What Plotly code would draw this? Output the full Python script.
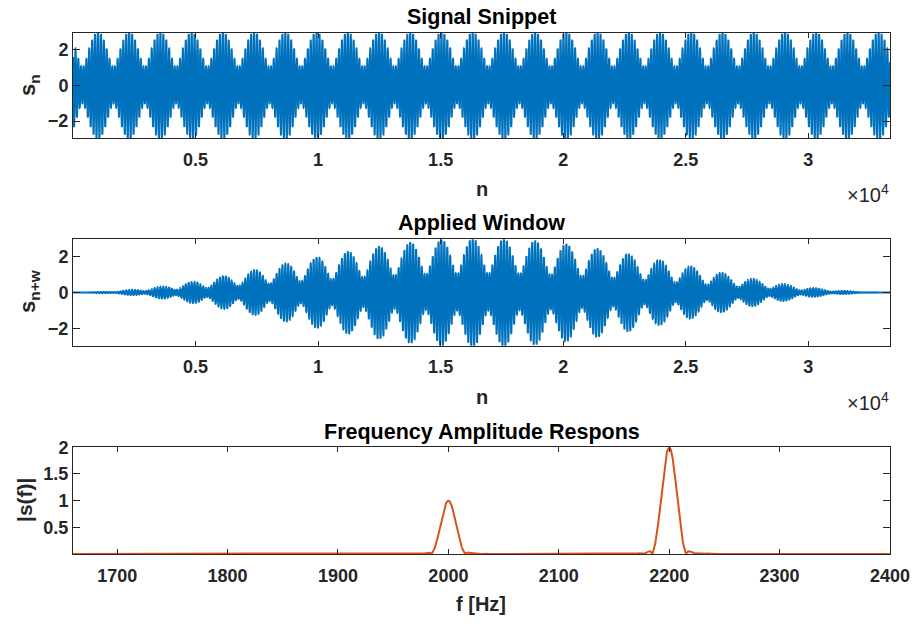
import numpy as np
import plotly.graph_objects as go

# ---- data / parameters ----
fs = 254800                 # sampling rate [Hz] (beat period ~1274 samples -> 200 Hz beat)
n_samples = 33333           # snippet length
start_offset = 1019         # first beat maximum falls at n ~ 1020
tone_freqs = [2000, 2200]   # Hz
tone_amps = [1.0, 2.0]

sig_xtick_vals = [5000, 10000, 15000, 20000, 25000, 30000]
sig_xtick_text = ["0.5", "1", "1.5", "2", "2.5", "3"]
sig_ytick_vals = [-2, 0, 2]
frq_xtick_vals = [1700, 1800, 1900, 2000, 2100, 2200, 2300, 2400]
frq_ytick_vals = [0.5, 1, 1.5, 2]
frq_range = [1660, 2400]

# ---- signal, window, spectrum ----
n = np.arange(1, n_samples + 1)
t = (n - 1 - start_offset) / fs
s = np.zeros(n_samples)
for f0, a0 in zip(tone_freqs, tone_amps):
    s += a0 * np.cos(2 * np.pi * f0 * t)
w = 0.5 * (1 - np.cos(2 * np.pi * (n - 1) / (n_samples - 1)))
sw = s * w
nfft = 2 ** 20
S = np.abs(np.fft.rfft(sw, nfft)) * 2 / w.sum()
f = np.arange(len(S)) * fs / nfft
m = (f >= frq_range[0]) & (f <= frq_range[1])
f_sel, S_sel = f[m], S[m]

BLUE = "#0072BD"
ORANGE = "#D95319"
AX = "#262626"
FONT = "Liberation Sans, Arial, sans-serif"

fig = go.Figure()
fig.add_trace(go.Scatter(x=n, y=s, mode="lines",
                         line=dict(color=BLUE, width=2, simplify=False),
                         xaxis="x", yaxis="y", showlegend=False))
fig.add_trace(go.Scatter(x=n, y=sw, mode="lines",
                         line=dict(color=BLUE, width=2, simplify=False),
                         xaxis="x2", yaxis="y2", showlegend=False))
fig.add_trace(go.Scatter(x=f_sel, y=S_sel, mode="lines",
                         line=dict(color=ORANGE, width=2),
                         xaxis="x3", yaxis="y3", showlegend=False))

W, H = 915, 624
x0, x1 = 73 / W, 890 / W
def ydom(top, bot):
    return [1 - bot / H, 1 - top / H]

tf = dict(family=FONT, size=18, color=AX, weight="bold")
common_x = dict(showline=True, linecolor=AX, linewidth=1, mirror="ticks", ticks="inside",
                ticklen=5, tickcolor=AX, showgrid=False, zeroline=False,
                tickfont=tf, automargin=False, ticklabelstandoff=5)
common_y = dict(showline=True, linecolor=AX, linewidth=1, mirror="ticks", ticks="inside",
                ticklen=7, tickcolor=AX, showgrid=False, zeroline=False,
                tickfont=tf, automargin=False)

sig_yr = [-2.95, 2.95]
fig.update_layout(
    width=W, height=H, margin=dict(l=0, r=0, t=0, b=0),
    paper_bgcolor="white", plot_bgcolor="white",
    font=dict(family=FONT, color=AX),
    xaxis=dict(domain=[x0, x1], anchor="y", range=[1, n_samples],
               tickvals=sig_xtick_vals, ticktext=sig_xtick_text, **common_x),
    yaxis=dict(domain=ydom(33, 138), anchor="x", range=sig_yr,
               tickvals=sig_ytick_vals, **common_y),
    xaxis2=dict(domain=[x0, x1], anchor="y2", range=[1, n_samples],
                tickvals=sig_xtick_vals, ticktext=sig_xtick_text, **common_x),
    yaxis2=dict(domain=ydom(239.3, 345.7), anchor="x2", range=sig_yr,
                tickvals=sig_ytick_vals, **common_y),
    xaxis3=dict(domain=[x0, x1], anchor="y3", range=frq_range,
                tickvals=frq_xtick_vals, **common_x),
    yaxis3=dict(domain=ydom(447.3, 554), anchor="x3", range=[0, 2],
                tickvals=frq_ytick_vals, **common_y),
)

def ann(text, x, y, size=20, angle=0, color=AX, xanchor="center", yanchor="middle", bold=True):
    fig.add_annotation(text=text, x=x / W, y=1 - y / H, xref="paper", yref="paper",
                       showarrow=False, textangle=angle, xanchor=xanchor, yanchor=yanchor,
                       font=dict(family=FONT, size=size, color=color,
                                 weight="bold" if bold else "normal"))

# titles
ann("Signal Snippet", 482, 17, size=21.5, color="#000000")
ann("Applied Window", 482, 223, size=21.5, color="#000000")
ann("Frequency Amplitude Respons", 482, 432, size=21.5, color="#000000")
# x labels
ann("n", 482, 189)
ann("n", 482, 397)
ann("f [Hz]", 481, 604)
# exponent labels
ann("×10<sup>4</sup>", 891, 193, size=20, xanchor="right", bold=False)
ann("×10<sup>4</sup>", 891, 401, size=20, xanchor="right", bold=False)
# y labels
ann("s<sub>n</sub>", 29, 85, size=22, angle=-90)
ann("s<sub>n+w</sub>", 29, 292, size=22, angle=-90)
ann("|s(f)|", 24, 500, size=21, angle=-90)

fig.write_html("out.html")
